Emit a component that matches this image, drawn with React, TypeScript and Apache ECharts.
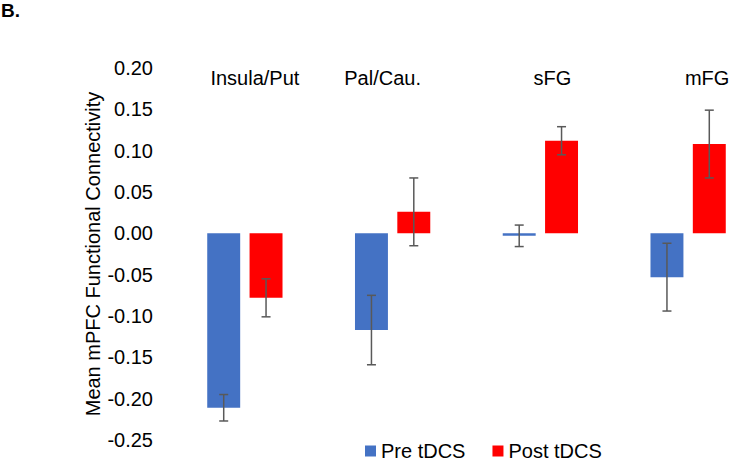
import React, { useEffect, useRef } from "react";
import * as echarts from "echarts";

const categories = ["Insula/Put", "Pal/Cau.", "sFG", "mFG"];
const preValues = [-0.211, -0.117, -0.003, -0.053];
const preErrors = [0.016, 0.042, 0.013, 0.041];
const postValues = [-0.078, 0.026, 0.112, 0.108];
const postErrors = [0.023, 0.041, 0.017, 0.041];
const yTicks = { min: -0.25, max: 0.2, interval: 0.05 };

// label shift (px) of each category heading relative to category centre
const labelShift = [10, -10, 12, 19];

const FONT = 'Arial, "Liberation Sans", sans-serif';
const BAR_W = 0.223; // fraction of band
const BAR_GAP = 0.285; // fraction of bar width

export default function App() {
  const ref = useRef<HTMLDivElement>(null);
  useEffect(() => {
    if (!ref.current) return;
    const chart = echarts.init(ref.current, null, { renderer: "svg" });

    const errSeries = (values: number[], errs: number[], side: number) => ({
      type: "custom",
      z: 10,
      silent: true,
      data: values.map((v, i) => [i, v, errs[i]]),
      renderItem: (params: any, api: any) => {
        const i = api.value(0);
        const v = api.value(1);
        const e = api.value(2);
        const band = api.size([1, 0])[0];
        const off = side * (band * BAR_W * (1 + BAR_GAP)) / 2;
        const top = api.coord([i, v + e]);
        const bot = api.coord([i, v - e]);
        const x = top[0] + off;
        const cap = 4.5;
        const style = { stroke: "#595959", lineWidth: 1.5 };
        return {
          type: "group",
          children: [
            { type: "line", shape: { x1: x, y1: top[1], x2: x, y2: bot[1] }, style },
            { type: "line", shape: { x1: x - cap, y1: top[1], x2: x + cap, y2: top[1] }, style },
            { type: "line", shape: { x1: x - cap, y1: bot[1], x2: x + cap, y2: bot[1] }, style },
          ],
        };
      },
    });

    const rich: any = {};
    labelShift.forEach((s, i) => {
      rich["s" + i] = {
        fontSize: 20,
        fontFamily: FONT,
        color: "#000",
        padding: s >= 0 ? [0, 0, 0, 2 * s] : [0, -2 * s, 0, 0],
      };
    });

    chart.setOption({
      animation: false,
      textStyle: { fontFamily: FONT },
      title: {
        text: "B.",
        left: 1,
        top: 1,
        padding: 0,
        textStyle: { fontSize: 19, fontWeight: "bold", color: "#000", fontFamily: FONT },
      },
      legend: {
        data: ["Pre tDCS", "Post tDCS"],
        left: 365,
        top: 441,
        padding: 0,
        itemWidth: 11,
        itemHeight: 11,
        itemGap: 27,
        icon: "rect",
        textStyle: { fontSize: 20, color: "#000", fontFamily: FONT, padding: [0, 0, 0, 0] },
      },
      grid: { left: 171, top: 68, width: 591, height: 372, outerBoundsMode: "none", containLabel: false },
      xAxis: {
        type: "category",
        data: categories,
        position: "top",
        axisLine: { show: false },
        axisTick: { show: false },
        splitLine: { show: false },
        axisLabel: {
          inside: true,
          margin: 0,
          interval: 0,
          formatter: (v: string, i: number) => `{s${i}|${v}}`,
          rich,
        },
      },
      yAxis: {
        type: "value",
        min: yTicks.min,
        max: yTicks.max,
        interval: yTicks.interval,
        name: "Mean mPFC Functional Connectivity",
        nameLocation: "middle",
        nameGap: 68,
        nameMoveOverlap: false,
        nameTextStyle: { fontSize: 20, color: "#000", fontFamily: FONT },
        axisLine: { show: false },
        axisTick: { show: false },
        splitLine: { show: false },
        axisLabel: {
          fontSize: 20,
          color: "#000",
          margin: 18,
          fontFamily: FONT,
          formatter: (v: number) => v.toFixed(2),
        },
      },
      series: [
        {
          name: "Pre tDCS",
          type: "bar",
          data: preValues,
          barWidth: (BAR_W * 100).toFixed(1) + "%",
          barGap: (BAR_GAP * 100).toFixed(1) + "%",
          itemStyle: { color: "#4472C4" },
        },
        {
          name: "Post tDCS",
          type: "bar",
          data: postValues,
          barWidth: (BAR_W * 100).toFixed(1) + "%",
          barGap: (BAR_GAP * 100).toFixed(1) + "%",
          itemStyle: { color: "#FF0000" },
        },
        errSeries(preValues, preErrors, -1),
        errSeries(postValues, postErrors, 1),
      ],
    });
    return () => chart.dispose();
  }, []);
  return (
    <div
      ref={ref}
      style={{ position: "fixed", left: 0, top: 0, width: 732, height: 462, background: "#fff" }}
    />
  );
}
